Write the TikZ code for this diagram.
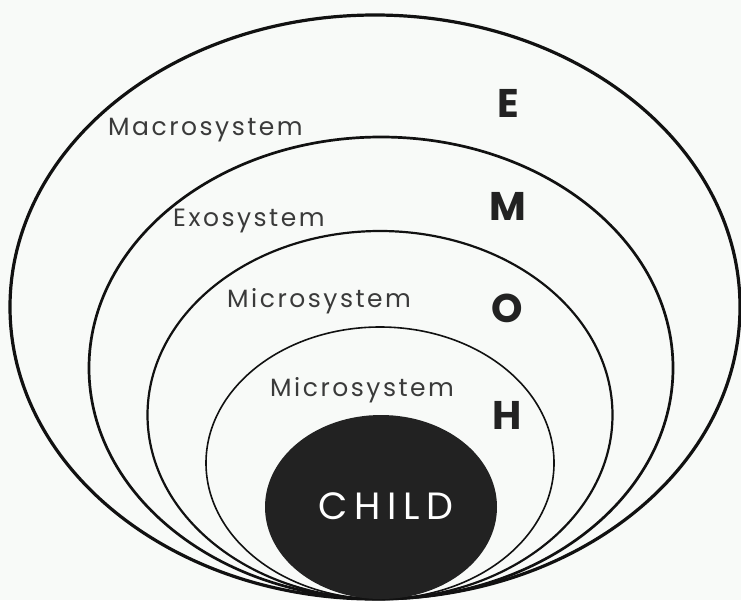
\documentclass[tikz,border=0pt]{standalone}
\usepackage{fontspec}
\setmainfont{Poppins}
\newfontfamily\lblfont[LetterSpace=10]{Poppins}
\newfontfamily\childfont[LetterSpace=18]{Poppins}
\usetikzlibrary{shapes.geometric}
\definecolor{bgc}{RGB}{248,250,248}
\definecolor{ink}{RGB}{17,17,17}
\definecolor{lbl}{RGB}{58,58,58}
\definecolor{dark}{RGB}{34,34,34}
\tikzset{
  ring/.style={draw=ink, ellipse, inner sep=0pt, outer sep=0pt},
  sysname/.style={anchor=base west, text=lbl, inner sep=0pt, font=\lblfont\fontsize{25}{30}\selectfont},
  initial/.style={anchor=base, text=dark, inner sep=0pt, font=\bfseries\fontsize{40}{48}\selectfont},
}
\begin{document}
\begin{tikzpicture}[x=1pt,y=-1pt]
\fill[bgc] (0,0) rectangle (741,600);
\useasboundingbox (0,0) rectangle (741,600);
\node[ring, line width=3.2pt, minimum width=730pt, minimum height=584pt] (macro) at (375,307) {};
\node[ring, line width=2.7pt, minimum width=584pt, minimum height=462pt] (exo) at (381,368) {};
\node[ring, line width=2.2pt, minimum width=465pt, minimum height=368pt] (meso) at (380,415) {};
\node[ring, line width=1.6pt, minimum width=348pt, minimum height=272pt] (micro) at (380,463) {};
\node[ellipse, fill=dark, inner sep=0pt, minimum width=232pt, minimum height=184pt] (child) at (381,507) {};
\node[anchor=base, text=white, inner sep=0pt, font=\childfont\fontsize{38}{44}\selectfont] (childlbl) at (386,519) {CHILD};
\node[sysname] (lmacro) at (108,135) {Macrosystem};
\node[sysname] (lexo) at (173,226) {Exosystem};
\node[sysname] (lmeso) at (227,307) {Microsystem};
\node[sysname] (lmicro) at (270,396) {Microsystem};
\node[initial] (ie) at (508,117) {E};
\node[initial] (im) at (508,220) {M};
\node[initial] (io) at (507,322) {O};
\node[initial] (ih) at (507,429) {H};
\end{tikzpicture}
\end{document}
